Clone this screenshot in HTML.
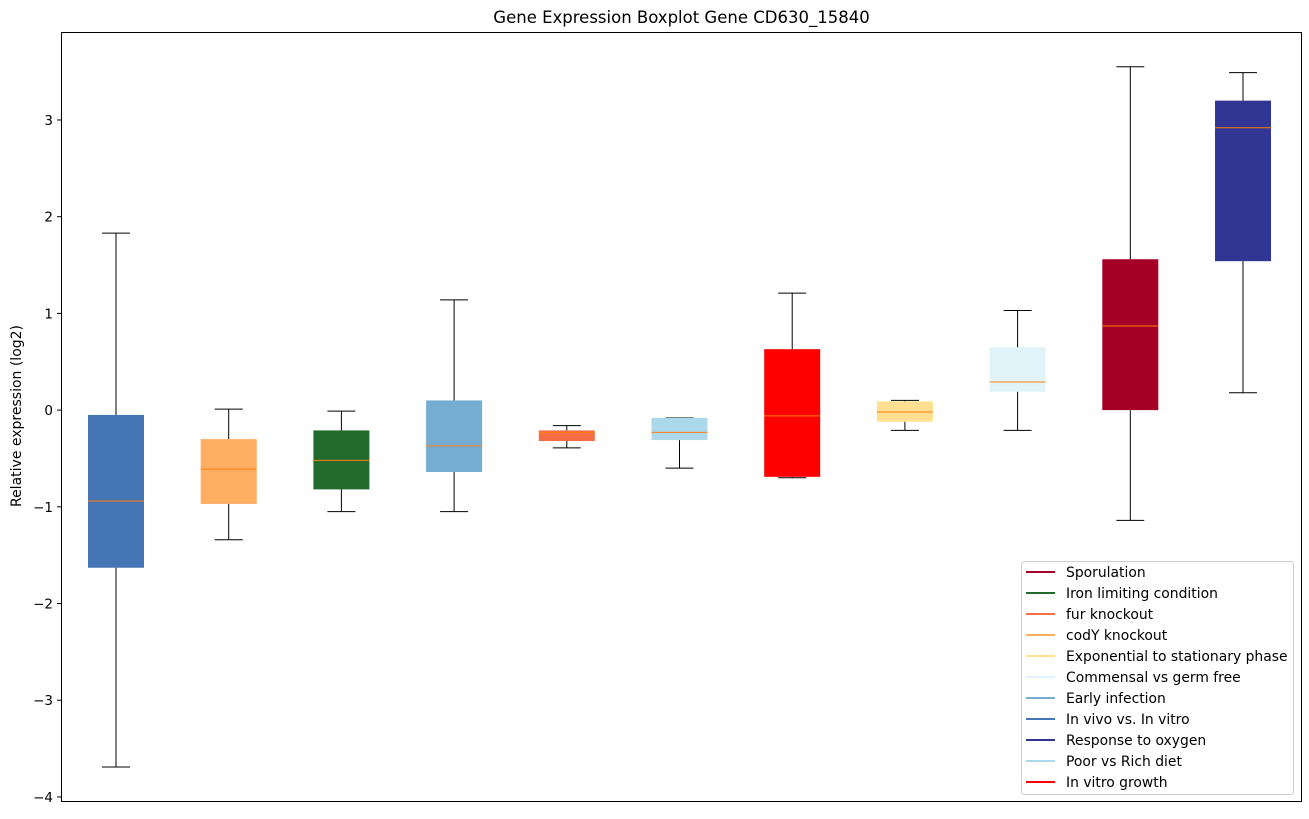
<!DOCTYPE html>
<html><head><meta charset="utf-8"><style>
body{margin:0;background:#fff;font-family:"DejaVu Sans","Liberation Sans",sans-serif;}
svg text{font-family:"DejaVu Sans","Liberation Sans",sans-serif;}
</style></head><body>
<svg id="chart" width="1309" height="815" xmlns="http://www.w3.org/2000/svg"></svg>
<script>
const categories=["In vivo vs. In vitro","codY knockout","Iron limiting condition","Early infection","fur knockout","Poor vs Rich diet","In vitro growth","Exponential to stationary phase","Commensal vs germ free","Sporulation","Response to oxygen"];
const whiskerLow=[-3.69,-1.34,-1.05,-1.05,-0.39,-0.60,-0.70,-0.21,-0.21,-1.14,0.18];
const q1=[-1.63,-0.97,-0.82,-0.64,-0.32,-0.31,-0.69,-0.12,0.19,0.0,1.54];
const median=[-0.94,-0.61,-0.52,-0.37,-0.23,-0.23,-0.06,-0.02,0.29,0.87,2.92];
const q3=[-0.05,-0.30,-0.21,0.10,-0.21,-0.08,0.63,0.09,0.65,1.56,3.20];
const whiskerHigh=[1.83,0.01,-0.01,1.14,-0.16,-0.08,1.21,0.10,1.03,3.55,3.49];
const colors=["#4575b4","#fdae61","#236b2c","#74add1","#f46d43","#abd9e9","#ff0000","#fee090","#e0f3f8","#a50026","#313695"];
const yTicks=[-4,-3,-2,-1,0,1,2,3];
const legendLabels=["Sporulation","Iron limiting condition","fur knockout","codY knockout","Exponential to stationary phase","Commensal vs germ free","Early infection","In vivo vs. In vitro","Response to oxygen","Poor vs Rich diet","In vitro growth"];
const legendColors=["#a50026","#236b2c","#f46d43","#fdae61","#fee090","#e0f3f8","#74add1","#4575b4","#313695","#abd9e9","#ff0000"];

const svg=document.getElementById('chart');
const NS="http://www.w3.org/2000/svg";
const L=61,R=1302,T=32,B=802;
const y=v=>410.1-v*96.71;
const x=i=>116+i*112.7;
function el(tag,attrs,parent){const e=document.createElementNS(NS,tag);for(const k in attrs)e.setAttribute(k,attrs[k]);(parent||svg).appendChild(e);return e;}

const title=el('text',{x:(L+R)/2,y:23,'text-anchor':'middle','font-size':16.5,fill:'#000'});
title.textContent="Gene Expression Boxplot Gene CD630_15840";



const yl=el('text',{x:0,y:0,'text-anchor':'middle','font-size':14,transform:`translate(21,${(T+B)/2-1}) rotate(-90)`});
yl.textContent="Relative expression (log2)";



yTicks.forEach(t=>{
  const g=el('g',{});
  
  
  el('line',{x1:L-4,x2:L,y1:y(t),y2:y(t),stroke:'#000'},g);
  const tx=el('text',{x:L-8,y:y(t)+5,'text-anchor':'end','font-size':13.5},g);
  tx.textContent=(t<0?'\u2212'+(-t):t);
});

categories.forEach((c,i)=>{
  const g=el('g',{});
  
  
  const cx=x(i),hw=28,cw=14;
  el('line',{x1:cx,x2:cx,y1:y(whiskerHigh[i]),y2:y(q3[i]),stroke:'#000'},g);
  el('line',{x1:cx,x2:cx,y1:y(q1[i]),y2:y(whiskerLow[i]),stroke:'#000'},g);
  el('line',{x1:cx-cw,x2:cx+cw,y1:y(whiskerHigh[i]),y2:y(whiskerHigh[i]),stroke:'#000'},g);
  el('line',{x1:cx-cw,x2:cx+cw,y1:y(whiskerLow[i]),y2:y(whiskerLow[i]),stroke:'#000'},g);
  el('rect',{x:cx-hw,y:y(q3[i]),width:2*hw,height:Math.max(1,y(q1[i])-y(q3[i])),fill:colors[i]},g);
  el('line',{x1:cx-hw,x2:cx+hw,y1:y(median[i]),y2:y(median[i]),stroke:'#ff7f0e'},g);
});

const frame=el('rect',{x:L+0.5,y:T+0.5,width:R-L-1,height:B-T-1,fill:'none',stroke:'#000'});



const lg=el('g',{});


el('rect',{x:1021.5,y:561.5,width:272,height:233,rx:3,fill:'#fff',stroke:'#ccc'},lg);
legendLabels.forEach((lab,i)=>{
  const g=el('g',{},lg);
  
  
  const yy=572+i*21;
  el('line',{x1:1026,x2:1055,y1:yy,y2:yy,stroke:legendColors[i],'stroke-width':2},g);
  const t=el('text',{x:1066,y:yy+5,'font-size':13.9},g);
  t.textContent=lab;
});
</script>
</body></html>
